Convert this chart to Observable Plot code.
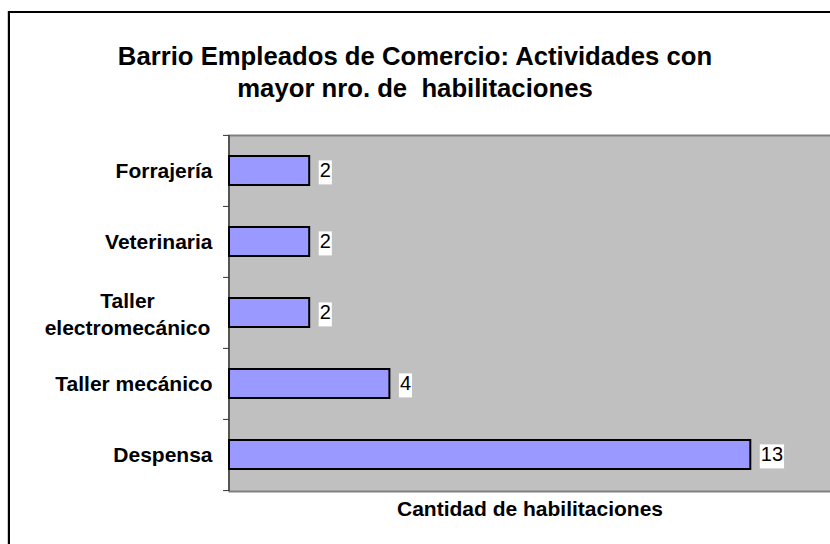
<!DOCTYPE html>
<html>
<head>
<meta charset="utf-8">
<script src="https://cdn.jsdelivr.net/npm/d3@7"></script>
<script src="https://cdn.jsdelivr.net/npm/@observablehq/plot@0.6"></script>
<style>
  html, body { margin: 0; padding: 0; background: #fff; overflow: hidden; }
  #wrap { position: relative; width: 830px; height: 544px; overflow: hidden; font-family: "Liberation Sans", Arial, sans-serif; }
  #bl { position: absolute; left: 8px; top: 11px; width: 2px; height: 600px; background: #000; z-index: 5; }
  #bs { position: absolute; left: 7px; top: 11px; width: 1px; height: 600px; background: #ccc; z-index: 5; }
  #bt { position: absolute; left: 8px; top: 11px; width: 900px; height: 2px; background: #000; z-index: 5; }
  #title { position: absolute; left: 0; top: 40px; width: 830px; text-align: center; font-weight: bold; font-size: 25.7px; line-height: 32px; white-space: pre; color: #000; }
  #chart { position: absolute; left: 0; top: 0; }
</style>
</head>
<body>
<div id="wrap">
  <div id="chart"></div>
  <div id="title"></div>
  <div id="bs"></div>
  <div id="bl"></div>
  <div id="bt"></div>
</div>
<script>
const titleLines = ["Barrio Empleados de Comercio: Actividades con", "mayor nro. de  habilitaciones"];
const categories = ["Forrajería", "Veterinaria", "Taller electromecánico", "Taller mecánico", "Despensa"];
const counts = [2, 2, 2, 4, 13];
const tickLabels = ["Forrajería", "Veterinaria", "Taller\nelectromecánico", "Taller mecánico", "Despensa"];
const xLabel = "Cantidad de habilitaciones";

const data = categories.map((c, i) => ({cat: c, value: counts[i]}));
const labelOf = new Map(categories.map((c, i) => [c, tickLabels[i]]));
const multi = categories.filter(c => labelOf.get(c).includes("\n"));
const single = categories.filter(c => !labelOf.get(c).includes("\n"));

document.getElementById("title").textContent = titleLines.join("\n");

const W = 830, H = 544, mT = 135, mB = 53, mL = 229;
const step = (H - mT - mB) / categories.length;

const chart = Plot.plot({
  width: W, height: H,
  marginLeft: mL, marginRight: 0, marginTop: mT, marginBottom: mB,
  style: {fontFamily: "'Liberation Sans', Arial, sans-serif", background: "transparent", color: "#000"},
  x: {domain: [0, 16], range: [mL, mL + 16 * 40.1], axis: null},
  y: {domain: categories, paddingInner: 0.59, paddingOuter: 0.295, align: 0.5, axis: null},
  marks: [
    Plot.frame({fill: "#c0c0c0", stroke: "none"}),
    Plot.frame({anchor: "top", stroke: "#808080", strokeWidth: 2}),
    Plot.frame({anchor: "bottom", stroke: "#808080", strokeWidth: 2}),
    Plot.ruleX([0], {stroke: "#555", strokeWidth: 2, dx: -0.5}),
    // tick marks at band boundaries
    Plot.axisY({tickSize: 6, tickFormat: () => "", stroke: "#333", dy: -step / 2, label: null}),
    Plot.axisY([categories[categories.length - 1]], {tickSize: 6, tickFormat: () => "", stroke: "#333", dy: step / 2, label: null}),
    // category labels
    Plot.axisY(single, {tickSize: 0, tickPadding: 17, fontSize: 21, fontWeight: "bold", fill: "#000", label: null, tickFormat: d => labelOf.get(d)}),
    Plot.axisY(multi, {tickSize: 0, tickPadding: 17, fontSize: 21, fontWeight: "bold", fill: "#000", label: null, textAnchor: "middle", dx: -85, lineHeight: 1.3, tickFormat: d => labelOf.get(d)}),
    Plot.barX(data, {x: "value", y: "cat", fill: "#9999ff", stroke: "#000", strokeWidth: 2}),
    Plot.text(data, {x: "value", y: "cat", text: d => String(d.value), dx: 10, textAnchor: "start", fontSize: 20, fill: "#000"}),
    Plot.text([xLabel], {frameAnchor: "bottom", lineAnchor: "top", dy: 10, fontSize: 21, fontWeight: "bold", fill: "#000", text: d => d})
  ]
});

document.getElementById("chart").appendChild(chart);

// white boxes behind the value labels
d3.select(chart).selectAll("text")
  .filter(function() { return /^\d+$/.test(this.textContent.trim()) && this.parentNode.tagName.toLowerCase() === "g"; })
  .each(function() {
    const b = this.getBBox();
    const r = document.createElementNS("http://www.w3.org/2000/svg", "rect");
    r.setAttribute("x", b.x - 1);
    r.setAttribute("y", b.y + 1);
    r.setAttribute("width", b.width + 2);
    r.setAttribute("height", b.height + 2);
    r.setAttribute("fill", "#fff");
    const t = this.getAttribute("transform");
    if (t) r.setAttribute("transform", t);
    this.parentNode.insertBefore(r, this);
  });
</script>
</body>
</html>
